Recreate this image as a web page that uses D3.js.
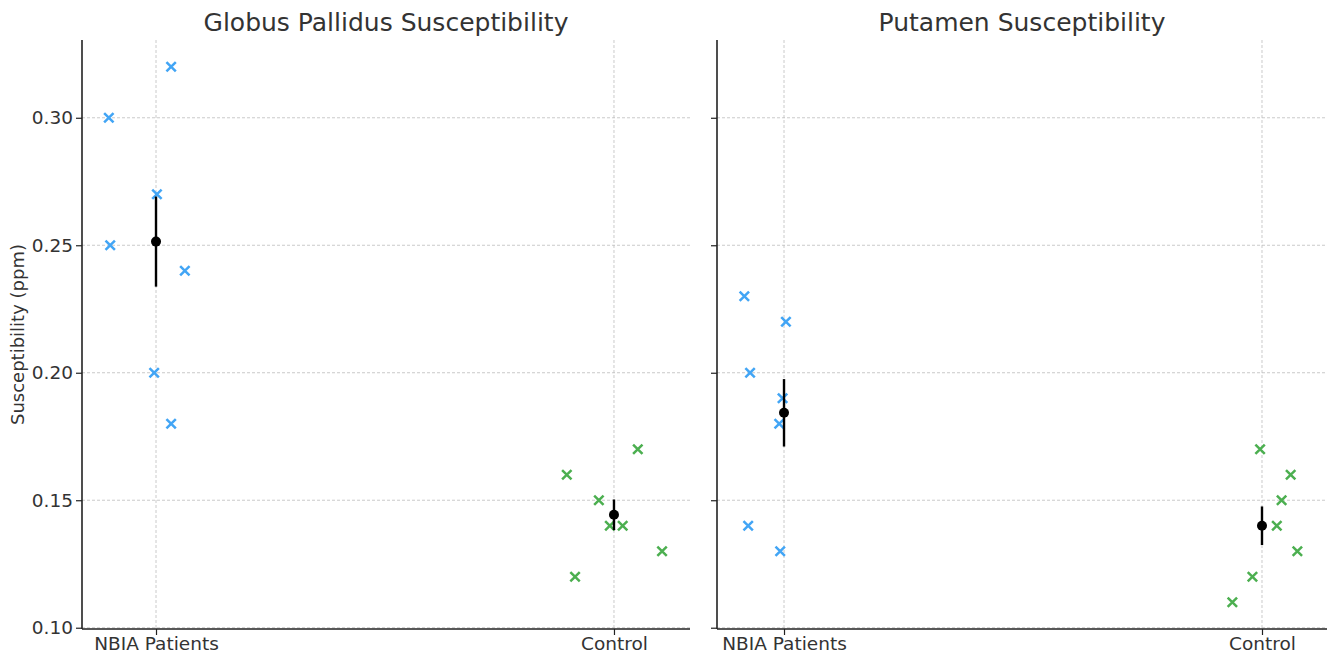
<!DOCTYPE html>
<html>
<head>
<meta charset="utf-8">
<script src="https://cdn.jsdelivr.net/npm/d3@7"></script>
<style>
  body { margin: 0; background: #fff; }
  svg { display: block; font-family: "DejaVu Sans", sans-serif; }
</style>
</head>
<body>
<svg id="chart" width="1327" height="658"></svg>
<script>
const groups = ['NBIA Patients', 'Control'];
const yTicks = [0.10, 0.15, 0.20, 0.25, 0.30];

// Globus Pallidus
const gpPatients = [0.30, 0.25, 0.32, 0.27, 0.24, 0.20, 0.18];
const gpPatientsJitter = [-0.103, -0.100, 0.033, 0.002, 0.063, -0.004, 0.033];
const gpControls = [0.16, 0.17, 0.15, 0.14, 0.14, 0.13, 0.12];
const gpControlsJitter = [-0.103, 0.052, -0.033, -0.009, 0.019, 0.105, -0.085];

// Putamen
const ptPatients = [0.23, 0.22, 0.20, 0.19, 0.18, 0.14, 0.13];
const ptPatientsJitter = [-0.083, 0.004, -0.071, -0.003, -0.010, -0.075, -0.008];
const ptControls = [0.17, 0.16, 0.15, 0.14, 0.13, 0.12, 0.11];
const ptControlsJitter = [-0.004, 0.060, 0.041, 0.031, 0.074, -0.020, -0.062];

const blue = '#42a5f5';
const green = '#4caf50';
const textColor = '#333';
const font = '"DejaVu Sans", sans-serif';

const svg = d3.select('#chart');
const plotTop = 40, plotBottom = 629;

const y = d3.scaleLinear().domain([0.0995, 0.3305]).range([plotBottom, plotTop]);

function sem(vals) {
  const m = d3.mean(vals);
  const sd = Math.sqrt(d3.mean(vals, (v) => (v - m) ** 2));
  return sd / Math.sqrt(vals.length);
}

function panel({ left, right, domain, title, patients, pJitter, controls, cJitter, showLabels }) {
  const x = d3.scaleLinear().domain(domain).range([left, right]);
  const g = svg.append('g');

  // grid
  g.selectAll('.hgrid')
    .data(yTicks)
    .enter()
    .append('line')
    .attr('x1', left).attr('x2', right)
    .attr('y1', (d) => y(d)).attr('y2', (d) => y(d))
    .attr('stroke', '#bdbdbd').attr('stroke-width', 0.8).attr('stroke-dasharray', '3,2');
  g.selectAll('.vgrid')
    .data([0, 1])
    .enter()
    .append('line')
    .attr('x1', (d) => x(d)).attr('x2', (d) => x(d))
    .attr('y1', plotTop).attr('y2', plotBottom)
    .attr('stroke', '#bdbdbd').attr('stroke-width', 0.8).attr('stroke-dasharray', '3,2');

  const sets = [
    { vals: patients, jit: pJitter, pos: 0, color: blue },
    { vals: controls, jit: cJitter, pos: 1, color: green },
  ];

  const s = 4.7;
  sets.forEach((set) => {
    const pts = set.vals.map((v, i) => [x(set.pos + set.jit[i]), y(v)]);
    g.selectAll(null)
      .data(pts)
      .enter()
      .append('path')
      .attr('d', (d) => `M${d[0] - s},${d[1] - s}L${d[0] + s},${d[1] + s}M${d[0] - s},${d[1] + s}L${d[0] + s},${d[1] - s}`)
      .attr('stroke', set.color)
      .attr('stroke-width', 2.5)
      .attr('fill', 'none');
  });

  sets.forEach((set) => {
    const m = d3.mean(set.vals);
    const e = sem(set.vals);
    g.append('line')
      .attr('x1', x(set.pos)).attr('x2', x(set.pos))
      .attr('y1', y(m - e)).attr('y2', y(m + e))
      .attr('stroke', '#000').attr('stroke-width', 2.4);
    g.append('circle')
      .attr('cx', x(set.pos)).attr('cy', y(m)).attr('r', 5).attr('fill', '#000');
  });

  // axes
  const yAxis = d3.axisLeft(y).tickValues(yTicks).tickSize(6).tickPadding(3)
    .tickFormat(showLabels ? d3.format('.2f') : () => '');
  const ya = g.append('g').attr('transform', `translate(${left},0)`).call(yAxis);
  const xAxis = d3.axisBottom(x).tickValues([0, 1]).tickSize(6).tickPadding(2)
    .tickFormat((d) => groups[d]);
  const xa = g.append('g').attr('transform', `translate(0,${plotBottom})`).call(xAxis);
  [ya, xa].forEach((a) => {
    a.attr('font-family', font).attr('font-size', 18.5);
    a.select('.domain').attr('stroke', '#222').attr('stroke-width', 1.6);
    a.selectAll('.tick line').attr('stroke', '#222').attr('stroke-width', 1.2);
    a.selectAll('.tick text').attr('fill', textColor);
  });
  ya.select('.domain').attr('d', `M0,${plotBottom}V${plotTop}`);
  xa.select('.domain').attr('d', `M${left},0H${right}`);

  g.append('text')
    .attr('x', (left + right) / 2)
    .attr('y', 31)
    .attr('text-anchor', 'middle')
    .attr('fill', textColor)
    .style('font-size', '25px')
    .text(title);
}

panel({
  left: 82, right: 690, domain: [-0.1616, 1.166],
  title: 'Globus Pallidus Susceptibility',
  patients: gpPatients, pJitter: gpPatientsJitter,
  controls: gpControls, cJitter: gpControlsJitter,
  showLabels: true,
});

panel({
  left: 717, right: 1327, domain: [-0.1402, 1.136],
  title: 'Putamen Susceptibility',
  patients: ptPatients, pJitter: ptPatientsJitter,
  controls: ptControls, cJitter: ptControlsJitter,
  showLabels: false,
});

svg.append('text')
  .attr('transform', `translate(24,${(plotTop + plotBottom) / 2}) rotate(-90)`)
  .attr('text-anchor', 'middle')
  .attr('fill', textColor)
  .style('font-size', '18px')
  .text('Susceptibility (ppm)');
</script>
</body>
</html>
